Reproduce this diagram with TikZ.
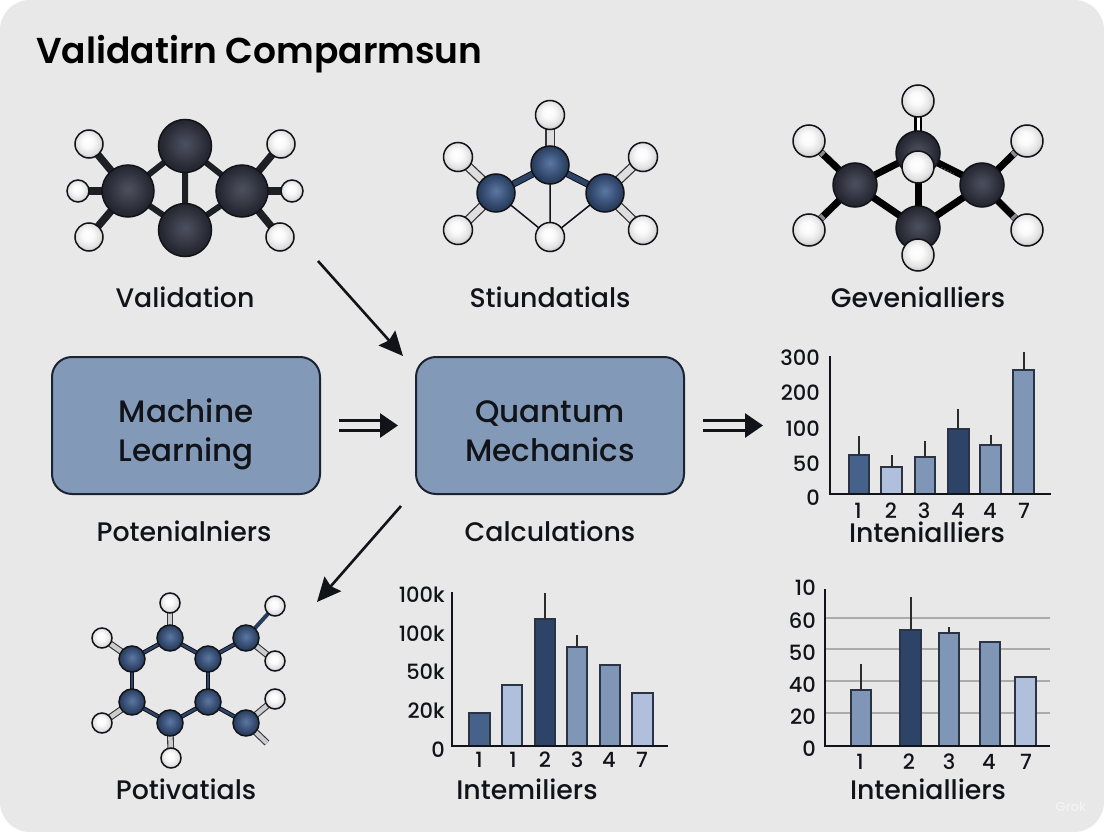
\documentclass[tikz,border=0pt]{standalone}
\usepackage{fontspec}
\setmainfont{Poppins Medium}[BoldFont={Poppins SemiBold}]
\usetikzlibrary{arrows.meta,backgrounds,calc}
\definecolor{panelgray}{HTML}{E8E8E9}
\definecolor{ink}{HTML}{111318}
\definecolor{boxfill}{HTML}{829AB8}
\definecolor{boxline}{HTML}{1C2433}
\definecolor{barA}{HTML}{46618A}
\definecolor{barB}{HTML}{B0C0DC}
\definecolor{barC}{HTML}{7F96B6}
\definecolor{barD}{HTML}{2D4468}
\definecolor{barline}{HTML}{2B3445}
\definecolor{bondblue}{HTML}{2D4468}
\definecolor{dA}{HTML}{4C4F5E}\definecolor{dB}{HTML}{3D404C}\definecolor{dC}{HTML}{262933}\definecolor{dD}{HTML}{1C1E24}
\definecolor{bA}{HTML}{5C78A0}\definecolor{bB}{HTML}{455E87}\definecolor{bC}{HTML}{2B4061}\definecolor{bD}{HTML}{212E47}
\definecolor{wA}{HTML}{FFFFFF}\definecolor{wB}{HTML}{FAFAFA}\definecolor{wC}{HTML}{E0E0E0}\definecolor{wD}{HTML}{9E9E9E}
\pgfdeclareradialshading{darkball}{\pgfpoint{0bp}{2bp}}{color(0bp)=(dA); color(10bp)=(dB); color(22bp)=(dC); color(32bp)=(dD); color(50bp)=(dD)}
\pgfdeclareradialshading{blueball}{\pgfpoint{0bp}{3bp}}{color(0bp)=(bA); color(10bp)=(bB); color(22bp)=(bC); color(32bp)=(bD); color(50bp)=(bD)}
\pgfdeclareradialshading{whiteball}{\pgfpoint{-3bp}{5bp}}{color(0bp)=(wA); color(10bp)=(wB); color(22bp)=(wC); color(32bp)=(wD); color(50bp)=(wD)}
\tikzset{
  x=1pt,y=-1pt,
  atom/.style={circle,inner sep=0pt,draw=ink,line width=1.5pt,minimum size=#1},
  darkatom/.style={atom=#1,shade,shading=darkball},
  blueatom/.style={atom=#1,shade,shading=blueball},
  whiteatom/.style={atom=#1,shade,shading=whiteball},
  dbond/.style={draw=ink!95!white,line width=6pt},
  dbondh/.style={draw=ink!95!white,line width=7.5pt},
  bbond/.style={draw=ink,double=bondblue,line width=1pt,double distance=5pt},
  wbond/.style={draw=ink!85!white,double=black!13,line width=1.3pt,double distance=7pt},
  wbondsm/.style={draw=ink!85!white,double=black!20,line width=1.1pt,double distance=4.5pt},
  thinbond/.style={draw=ink,line width=1.5pt},
  kbond/.style={draw=black,line width=7pt},
  lab/.style={font=\fontsize{26.8}{27}\selectfont,text=ink,inner sep=0pt},
  tick/.style={font=\fontsize{21}{21}\selectfont,text=ink,inner sep=0pt},
  boxnode/.style={draw=boxline,line width=2pt,fill=boxfill,rounded corners=20pt,minimum width=268pt,minimum height=137pt,font=\fontsize{31}{39}\selectfont,text=ink,align=center,inner sep=0pt},
  arrowthin/.style={draw=ink,line width=2.6pt,-{Stealth[length=24pt,width=22pt,inset=3pt]}},
  arrowdouble/.style={draw=ink,line width=3pt,double=panelgray,double distance=7pt,-{Triangle[length=18pt,width=24pt]}},
  axisline/.style={draw=ink,line width=1.6pt},
  errline/.style={draw=ink!90!white,line width=1.5pt},
  gridl/.style={draw=black!33,line width=1.6pt},
}
\newcommand{\chbar}[5]{\draw[draw=barline,line width=1.2pt,fill=#5] (#1,#3) rectangle (#2,#4);}
\newcommand{\boxtext}[2]{\rule{0pt}{41pt}#1\\\vphantom{g}#2}
\begin{document}
\begin{tikzpicture}
\useasboundingbox (0,0) rectangle (1104,832);
% panel
\begin{scope}[on background layer]
\fill[color=white] (0,0) rectangle (1104,832);
\fill[panelgray,rounded corners=30pt] (0,0) rectangle (1104,832);
\end{scope}

\node[anchor=base west,font=\fontsize{36}{36}\bfseries\selectfont,text=black,inner sep=0pt] (title) at (36,64) {Validatirn Comparmsun};

% ---------- molecule 1
\node[darkatom=53pt] (a1t) at (185,146) {};
\node[darkatom=53pt] (a1b) at (185,230) {};
\node[darkatom=52pt] (a1l) at (128,191) {};
\node[darkatom=52pt] (a1r) at (242,191) {};
\node[whiteatom=28pt] (h1a) at (89,144) {};
\node[whiteatom=22pt] (h1b) at (78,191) {};
\node[whiteatom=28pt] (h1c) at (89,237) {};
\node[whiteatom=28pt] (h1d) at (281,144) {};
\node[whiteatom=22pt] (h1e) at (292,191) {};
\node[whiteatom=28pt] (h1f) at (280,237) {};
\begin{scope}[on background layer]
\draw[dbond] (a1t.center) -- (a1b.center) (a1t.center) -- (a1l.center) (a1t.center) -- (a1r.center) (a1b.center) -- (a1l.center) (a1b.center) -- (a1r.center);
\foreach \p/\q in {a1l/h1a,a1l/h1b,a1l/h1c,a1r/h1d,a1r/h1e,a1r/h1f} \draw[dbondh] (\p.center) -- (\q.center);
\end{scope}

% ---------- molecule 2
\node[blueatom=38pt] (a2t) at (550,165) {};
\node[blueatom=38pt] (a2l) at (496,193) {};
\node[blueatom=38pt] (a2r) at (605,193) {};
\node[whiteatom=29pt] (h2a) at (550,115) {};
\node[whiteatom=29pt] (h2b) at (458,157) {};
\node[whiteatom=29pt] (h2c) at (458,230) {};
\node[whiteatom=29pt] (h2d) at (643,157) {};
\node[whiteatom=29pt] (h2e) at (643,230) {};
\node[whiteatom=29pt] (h2f) at (550,237) {};
\begin{scope}[on background layer]
\foreach \p/\q in {a2t/h2a,a2l/h2b,a2l/h2c,a2r/h2d,a2r/h2e} \draw[wbond] (\p.center) -- (\q.center);
\draw[bbond] (a2t.center) -- (a2l.center);
\draw[bbond] (a2t.center) -- (a2r.center);
\draw[thinbond] (a2t.center) -- (h2f.center) (a2l.center) -- (h2f.center) (a2r.center) -- (h2f.center);
\end{scope}

% ---------- molecule 3
\node[darkatom=44pt] (a3t) at (918,153) {};
\node[darkatom=44pt] (a3l) at (855,185) {};
\node[darkatom=44pt] (a3r) at (982,185) {};
\node[darkatom=44pt] (a3b) at (918,228) {};
\node[whiteatom=32pt] (h3a) at (918,101) {};
\node[whiteatom=32pt] (h3b) at (918,167) {};
\node[whiteatom=32pt] (h3c) at (918,255) {};
\node[whiteatom=32pt] (h3d) at (809,141) {};
\node[whiteatom=32pt] (h3e) at (809,230) {};
\node[whiteatom=32pt] (h3f) at (1027,141) {};
\node[whiteatom=32pt] (h3g) at (1027,230) {};
\begin{scope}[on background layer]
\foreach \p/\q in {a3t/a3l,a3t/a3r,a3b/a3l,a3b/a3r,a3l/h3d,a3l/h3e,a3r/h3f,a3r/h3g} \draw[kbond] (\p.center) -- (\q.center);
\draw[kbond] (h3b.center) -- (a3b.center);
\draw[kbond,line width=6pt] (a3b.center) -- (h3c.center);
\draw[draw=black,line width=2.5pt,double=white,double distance=3pt] (a3t.center) -- (h3a.center);
\foreach \q/\p in {h3d/a3l,h3e/a3l,h3f/a3r,h3g/a3r} \draw[draw=black!45,line width=6pt] (\q.center) -- ($(\q)!20pt!(\p)$);
\end{scope}
\draw[dotted,line width=1.4pt,draw=black!70] ($(a3t)!0.36!(a3r)+(0,3)$) -- ($(a3t)!0.56!(a3r)+(0,3)$);

% ---------- molecule 4
\node[blueatom=26pt] (a4a) at (170,638) {};
\node[blueatom=26pt] (a4b) at (208,659) {};
\node[blueatom=26pt] (a4c) at (208,702) {};
\node[blueatom=26pt] (a4d) at (170,723) {};
\node[blueatom=26pt] (a4e) at (132,702) {};
\node[blueatom=26pt] (a4f) at (132,659) {};
\node[blueatom=26pt] (a4g) at (246,638) {};
\node[blueatom=26pt] (a4h) at (246,723) {};
\node[whiteatom=20pt] (h4a) at (170,603) {};
\node[whiteatom=20pt] (h4b) at (102,638) {};
\node[whiteatom=20pt] (h4c) at (102,723) {};
\node[whiteatom=20pt] (h4d) at (171,758) {};
\node[whiteatom=20pt] (h4e) at (275,606) {};
\node[whiteatom=20pt] (h4f) at (275,661) {};
\node[whiteatom=20pt] (h4g) at (275,699) {};
\coordinate (f4) at (267,743);
\begin{scope}[on background layer]
\foreach \p/\q in {a4a/h4a,a4f/h4b,a4e/h4c,a4d/h4d,a4g/h4f,a4h/h4g} \draw[wbondsm] (\p.center) -- (\q.center);
\draw[wbondsm] (a4h.center) -- (f4);
\draw[draw=bondblue!90!black,line width=4pt] (a4g.center) -- (h4e.center);
\foreach \p/\q in {a4a/a4f,a4a/a4b,a4b/a4c,a4c/a4d,a4d/a4e,a4e/a4f,a4b/a4g,a4c/a4h}
  \draw[draw=ink,double=bondblue,line width=1pt,double distance=2.5pt] (\p.center) -- (\q.center);
\end{scope}

% ---------- labels
\node[lab] (l1) at (185,297) {Validation};
\node[lab] (l2) at (550,297) {Stiundatials};
\node[lab] (l3) at (918,297) {Gevenialliers};
\node[lab] (l4) at (184,531) {Potenialniers};
\node[lab] (l5) at (550,531) {Calculations};
\node[lab] (l6) at (186,789) {Potivatials};
\node[lab] (l7) at (527,789) {Intemiliers};
\node[lab] (l8) at (927,532) {Intenialliers};
\node[lab] (l9) at (928,789) {Intenialliers};

% ---------- boxes
\node[boxnode] (ml) at (186,425.5) {\boxtext{Machine}{Learning}};
\node[boxnode] (qm) at (550,425.5) {\boxtext{Quantum}{Mechanics}};

% ---------- arrows
\coordinate (s1) at (318,261);
\coordinate (e1) at (403,356);
\coordinate (s2) at (401,506);
\coordinate (e2) at (317,602);
\coordinate (e3) at (763,425.5);
\draw[arrowthin] (s1) -- (e1);
\draw[arrowthin] (s2) -- (e2);
\draw[arrowdouble,shorten <=18pt,shorten >=17pt] (ml.east) -- (qm.west);
\draw[arrowdouble,shorten <=18pt] (qm.east) -- (e3);

% ---------- chart A
\chbar{849}{869}{455}{494}{barA}
\chbar{881}{902}{467}{494}{barB}
\chbar{915}{935}{457}{494}{barC}
\chbar{948}{969}{429}{494}{barD}
\chbar{980}{1001}{445}{494}{barC}
\chbar{1013}{1034}{370}{494}{barC}
\foreach \x/\t/\b in {859/436/455,892/455/467,925/441/457,958/409/429,991/435/445,1024/352/370}
  \draw[errline] (\x,\t) -- (\x,\b);
\draw[axisline] (830,356) -- (830,494) -- (1051,494);
\foreach \l/\y [count=\i] in {300/358,200/393,100/429,50/464,0/498}
  \node[tick,anchor=east] (ya\i) at (820,\y) {\l};
\foreach \l/\x [count=\i] in {1/858,2/891,3/924,4/958,4/990,7/1024}
  \node[tick] (xa\i) at (\x,511) {\l};

% ---------- chart B
\chbar{469}{490}{713}{746}{barA}
\chbar{502}{522}{685}{746}{barB}
\chbar{535}{555}{619}{746}{barD}
\chbar{567}{587}{647}{746}{barC}
\chbar{600}{620}{665}{746}{barC}
\chbar{632}{653}{693}{746}{barB}
\foreach \x/\t/\b in {545/593/619,577/635/647}
  \draw[errline] (\x,\t) -- (\x,\b);
\draw[axisline] (452,592) -- (452,746) -- (668,746);
\foreach \l/\y [count=\i] in {100k/595,100k/634,50k/672,20k/711,0/750}
  \node[tick,anchor=east] (yb\i) at (445,\y) {\l};
\foreach \l/\x [count=\i] in {1/479,1/513,2/545,3/577,4/609,7/642}
  \node[tick] (xb\i) at (\x,760) {\l};

% ---------- chart C
\foreach \y in {618,649,681,713} \draw[gridl] (825,\y) -- (1050,\y);
\chbar{851}{871}{690}{746}{barC}
\chbar{900}{921}{630}{746}{barD}
\chbar{939}{959}{633}{746}{barC}
\chbar{980}{1000}{642}{746}{barC}
\chbar{1015}{1036}{677}{746}{barB}
\foreach \x/\t/\b in {861/664/690,911/597/630,949/627/633}
  \draw[errline] (\x,\t) -- (\x,\b);
\draw[axisline] (825,589) -- (825,746) -- (1050,746);
\foreach \l/\y [count=\i] in {10/588,60/621,50/653,40/685,20/717,0/749}
  \node[tick,anchor=east] (yc\i) at (816,\y) {\l};
\foreach \l/\x [count=\i] in {1/860,2/909,3/949,4/989,7/1026}
  \node[tick] (xc\i) at (\x,762) {\l};

% watermark
\node[font=\fontsize{13}{13}\selectfont,text=white!50!panelgray,inner sep=0pt] (wm) at (1071,807) {Grok};
\end{tikzpicture}
\end{document}
